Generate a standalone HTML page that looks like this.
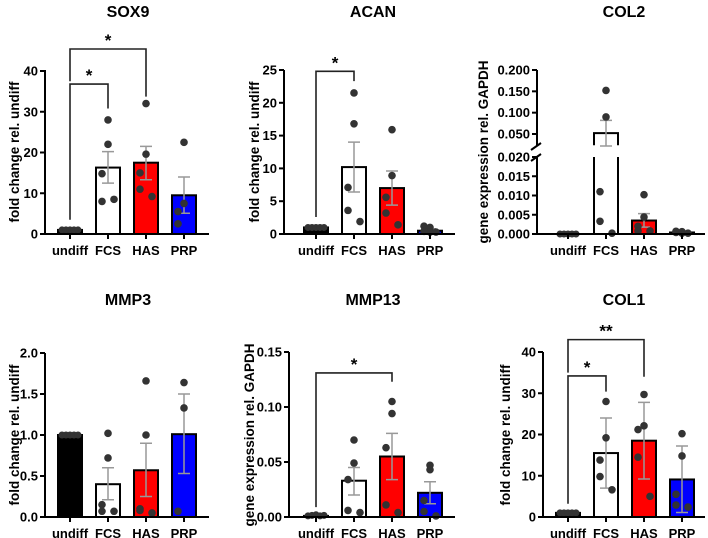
<!DOCTYPE html>
<html><head><meta charset="utf-8"><style>
body{margin:0;background:#fff;width:708px;height:538px;overflow:hidden}
svg{display:block;font-family:"Liberation Sans",Arial,sans-serif}
</style></head><body>
<svg id="fig" width="708" height="538" viewBox="0 0 708 538"></svg>
<script>
const groups = ["undiff","FCS","HAS","PRP"];
const colors = ["#000","#fff","#f00","#00f"];
// SOX9
const sox9Means = [1,16.3,17.5,9.5];
const sox9Err = [[1,1],[12.5,20.2],[13.3,21.5],[5.1,14]];
const sox9Pts = [[1,1,1,1,1],[28,22,14.8,8,8.5],[32,19.6,15,11,9.2],[22.5,7.5,5.5,2.5]];
const sox9Ticks = [0,10,20,30,40];
// ACAN
const acanMeans = [1,10.2,7,0.5];
const acanErr = [[1,1],[6.4,14],[4.4,9.6],[0.3,0.8]];
const acanPts = [[1,1,1,1,1],[21.5,16.8,7.1,3.6,1.9],[15.9,8.9,5.6,3.2,1.4],[1,0.3,1.2,0.4,0.3]];
const acanTicks = [0,5,10,15,20,25];
// COL2
const col2Means = [0,0.052,0.0035,0.0004];
const col2Err = [[0,0],[0.022,0.082],[0.0018,0.0053],[0.0002,0.0006]];
const col2Pts = [[0,0,0,0,0],[0.152,0.09,0.011,0.0033,0.0002],[0.0102,0.0044,0.002,0.0008,0.0008],[0.0002,0.0006,0.0007,0.0004,0.0002]];
const col2TicksLow = ["0.000","0.005","0.010","0.015","0.020"];
const col2TicksHigh = ["0.050","0.100","0.150","0.200"];
// MMP3
const mmp3Means = [1,0.4,0.57,1.01];
const mmp3Err = [[1,1],[0.21,0.6],[0.25,0.9],[0.53,1.5]];
const mmp3Pts = [[1,1,1,1,1],[1.02,0.72,0.15,0.07,0.07],[1.66,1.0,0.1,0.08,0.05],[1.64,1.33,0.07]];
const mmp3Ticks = ["0.0","0.5","1.0","1.5","2.0"];
// MMP13
const mmp13Means = [0.001,0.033,0.055,0.022];
const mmp13Err = [[0.001,0.001],[0.02,0.045],[0.034,0.076],[0.012,0.032]];
const mmp13Pts = [[0.001,0.0015,0.002,0.001,0.0015],[0.07,0.049,0.034,0.006,0.004],[0.105,0.094,0.063,0.011,0.004],[0.047,0.043,0.015,0.005,0.001]];
const mmp13Ticks = ["0.00","0.05","0.10","0.15"];
// COL1
const col1Means = [1,15.5,18.5,9.1];
const col1Err = [[1,1],[7,24],[9.2,27.8],[1.1,17.2]];
const col1Pts = [[1,1,1,1,1],[28,19.2,13.8,9.8,6.6],[29.7,22.1,21.2,14.5,5],[20.2,14.8,5.5,2.9,2.4]];
const col1Ticks = [0,10,20,30,40];
// brackets: [from, to, level, leftEnd, rightEnd, label]
const sox9Br = [[0,1,36.8,3.5,30.8,"*"],[0,2,45.4,37.5,33.7,"*"]];
const acanBr = [[0,1,24.8,2.6,23.3,"*"]];
const mmp13Br = [[0,2,0.131,0.009,0.123,"*"]];
const col1Br = [[0,1,34.2,3.2,30.4,"*"],[0,2,43,35,34,"**"]];

const svg = document.getElementById('fig');
const NS = "http://www.w3.org/2000/svg";
function mk(tag, attrs, parent){const e=document.createElementNS(NS,tag);for(const k in attrs)e.setAttribute(k,attrs[k]);(parent||svg).appendChild(e);return e;}
function txt(s, attrs, parent){const e=mk('text',attrs,parent);e.textContent=s;return e;}
const offsJ=[0,0,-6,-6,6], offsU=[-8,-4,0,4,8];

function panel(o){
  const g=mk('g',{});
  
  
  const xs=o.xs, y=o.y;
  const t=txt(o.title,{x:o.tx,y:o.ty,'text-anchor':'middle','font-size':16,'font-weight':'bold'},g);
  
  
  const yt=txt(o.ylabel,{transform:`translate(${o.ylx},${o.yly}) rotate(-90)`,'text-anchor':'middle','font-size':13.5,'font-weight':'bold'},g);
  
  
  o.means.forEach((m,i)=>{
    if(o.segments){
      o.segments(g,i,m,xs[i]);
    } else {
      const top=y(m), h=Math.max(o.base-top,0);
      const b=mk('rect',{x:xs[i]-12,y:top,width:24,height:h,fill:colors[i],stroke:'#000','stroke-width':2},g);
      
      
    }
  });
  o.err.forEach((e,i)=>{
    if(i===0) return;
    const lo=y(e[0]),hi=y(e[1]);
    const eb=mk('path',{d:`M${xs[i]} ${lo}V${hi}M${xs[i]-6} ${hi}H${xs[i]+6}M${xs[i]-6} ${lo}H${xs[i]+6}`,stroke:'#999','stroke-width':1.5,fill:'none'},g);
    
    
  });
  o.pts.forEach((arr,i)=>{
    arr.forEach((v,k)=>{
      const dx=(i===0)?offsU[k]:offsJ[k%5];
      const c=mk('circle',{cx:xs[i]+dx,cy:y(v),r:(i===0?3.5:3.8),fill:'#333'},g);
      
      
    });
  });
  const ax=mk('path',{d:o.axisPath,stroke:'#000','stroke-width':2,fill:'none'},g);
  
  
  o.ticks.forEach(tk=>{
    const v=parseFloat(tk), py=o.tickY?o.tickY(v):y(v);
    mk('line',{x1:o.ax-5,x2:o.ax,y1:py,y2:py,stroke:'#000','stroke-width':2},g);
    const tl=txt(String(tk),{x:o.ax-7,y:py+4.5,'text-anchor':'end','font-size':13,'font-weight':'bold'},g);
    
    
  });
  groups.forEach((gname,i)=>{
    mk('line',{x1:xs[i],x2:xs[i],y1:o.base,y2:o.base+5,stroke:'#000','stroke-width':2},g);
    const xl=txt(gname,{x:xs[i],y:o.base+21,'text-anchor':'middle','font-size':13,'font-weight':'bold'},g);
    
    
  });
  (o.br||[]).forEach(b=>{
    const x1=xs[b[0]],x2=xs[b[1]],ly=y(b[2]);
    const p=mk('path',{d:`M${x1} ${y(b[3])}V${ly}H${x2}V${y(b[4])}`,stroke:'#222','stroke-width':1.6,fill:'none'},g);
    
    
    const s=txt(b[5],{x:(x1+x2)/2,y:ly-3,'text-anchor':'middle','font-size':17,'font-weight':'bold'},g);
    
    
  });
}
function lin(base,topPx,max){return v=>base-(v/max)*(base-topPx);}

const xsL=[70,108,146,184], xsM=[316,354,392,430], xsR=[568,606,644,682];
panel({id:'sox9',title:'SOX9',tx:128,ty:17,ylabel:'fold change rel. undiff',ylx:19,yly:152,xs:xsL,ax:45,base:234,
 y:lin(234,71,40),means:sox9Means,err:sox9Err,pts:sox9Pts,ticks:sox9Ticks,br:sox9Br,axisPath:'M45 70V234H209'});
panel({id:'acan',title:'ACAN',tx:373,ty:17,ylabel:'fold change rel. undiff',ylx:259,yly:152,xs:xsM,ax:284,base:234,
 y:lin(234,70,25),means:acanMeans,err:acanErr,pts:acanPts,ticks:acanTicks,br:acanBr,axisPath:'M284 70V234H455'});
(function(){
 const yc=v=> v<=0.021 ? 234-(v/0.02)*77 : 134-((v-0.05)/0.15)*64;
 const ax=537, base=234;
 panel({id:'col2',title:'COL2',tx:624,ty:17,ylabel:'gene expression rel. GAPDH',ylx:488,yly:152,xs:xsR,ax:ax,base:base,
  y:yc,means:col2Means,err:col2Err,pts:col2Pts,ticks:col2TicksLow.concat(col2TicksHigh),
  tickY:v=>yc(v),
  axisPath:`M${ax} 70V146M${ax} 157V${base}H705M${ax-6} 150L${ax+4} 143M${ax-6} 161L${ax+4} 154`,
  segments:(g,i,m,x)=>{
    if(m>0.021){
      const r1=mk('path',{d:`M${x-12} ${base}V${yc(0.02)}M${x+12} ${base}V${yc(0.02)}M${x-12} ${base}H${x+12}`,stroke:'#000','stroke-width':2,fill:'none'},g);
      
      
      const r2=mk('path',{d:`M${x-12} ${yc(0.0235)}V${yc(m)}H${x+12}V${yc(0.0235)}`,stroke:'#000','stroke-width':2,fill:'none'},g);
      
      
    } else {
      const top=yc(m);
      const b=mk('rect',{x:x-12,y:top,width:24,height:Math.max(base-top,0),fill:colors[i],stroke:'#000','stroke-width':2},g);
      
      
    }
  }});
})();
panel({id:'mmp3',title:'MMP3',tx:128,ty:305,ylabel:'fold change rel. undiff',ylx:19,yly:435,xs:xsL,ax:45,base:517,
 y:lin(517,353,2),means:mmp3Means,err:mmp3Err,pts:mmp3Pts,ticks:mmp3Ticks,axisPath:'M45 353V517H209'});
panel({id:'mmp13',title:'MMP13',tx:373,ty:305,ylabel:'gene expression rel. GAPDH',ylx:254,yly:435,xs:xsM,ax:289,base:517,
 y:lin(517,352,0.15),means:mmp13Means,err:mmp13Err,pts:mmp13Pts,ticks:mmp13Ticks,br:mmp13Br,axisPath:'M289 352V517H455'});
panel({id:'col1',title:'COL1',tx:624,ty:305,ylabel:'fold change rel. undiff',ylx:510,yly:435,xs:xsR,ax:543,base:517,
 y:lin(517,352,40),means:col1Means,err:col1Err,pts:col1Pts,ticks:col1Ticks,br:col1Br,axisPath:'M543 352V517H705'});
</script>
</body></html>
